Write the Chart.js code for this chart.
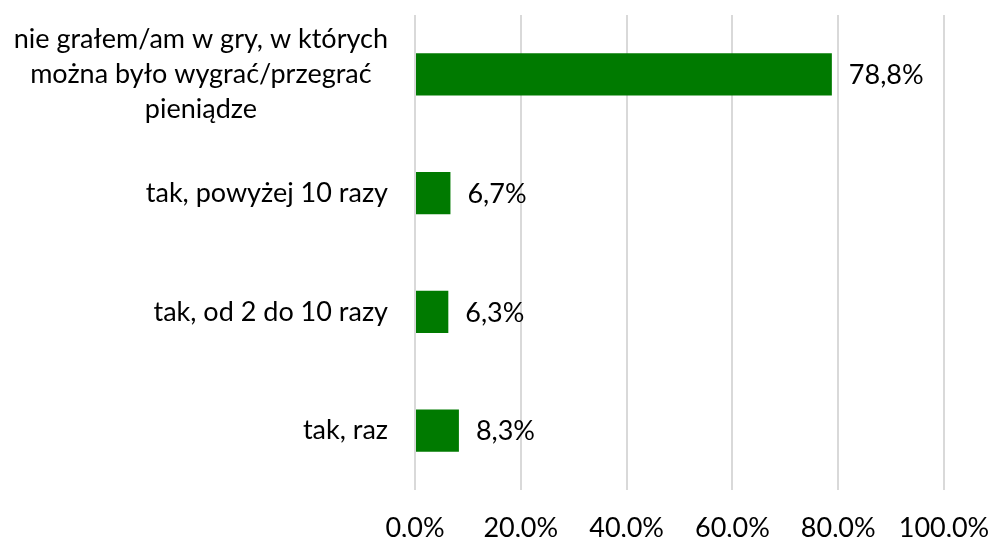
<!DOCTYPE html>
<html>
<head>
<meta charset="utf-8">
<script src="https://cdn.jsdelivr.net/npm/chart.js@4"></script>
<style>
  html, body { margin: 0; padding: 0; background: #fff; }
  #wrap { width: 990px; height: 537px; }
</style>
</head>
<body>
<div id="wrap"><canvas id="chart"></canvas></div>
<script>
// --- DATA ---
const categories = [
  ['nie grałem/am w gry, w których', 'można było wygrać/przegrać', 'pieniądze'],
  ['tak, powyżej 10 razy'],
  ['tak, od 2 do 10 razy'],
  ['tak, raz']
];
const values = [78.8, 6.7, 6.3, 8.3];
const tickValues = [0, 20, 40, 60, 80, 100];

const FONT = 'Lato, "Open Sans", sans-serif';
const SIZE = 27;
const fmt = v => v.toFixed(1).replace('.', ',') + '%';

// category labels: block right-aligned, lines centered inside the block
const catLabels = {
  id: 'catLabels',
  afterDraw(chart) {
    const ctx = chart.ctx, y = chart.scales.y;
    ctx.save();
    ctx.font = SIZE + 'px ' + FONT;
    ctx.fillStyle = '#000';
    ctx.textAlign = 'center';
    ctx.textBaseline = 'middle';
    const right = chart.chartArea.left - 27;
    const lh = 35;
    categories.forEach((lines, i) => {
      const w = Math.max(...lines.map(l => ctx.measureText(l).width));
      const cx = right - w / 2;
      const cy = y.getPixelForValue(i);
      lines.forEach((l, k) => ctx.fillText(l, cx, cy + (k - (lines.length - 1) / 2) * lh));
    });
    ctx.restore();
  }
};

// value labels at bar ends
const valLabels = {
  id: 'valLabels',
  afterDatasetsDraw(chart) {
    const ctx = chart.ctx;
    ctx.save();
    ctx.font = SIZE + 'px ' + FONT;
    ctx.fillStyle = '#000';
    ctx.textAlign = 'left';
    ctx.textBaseline = 'middle';
    chart.getDatasetMeta(0).data.forEach((bar, i) => {
      ctx.fillText(fmt(values[i]), bar.x + 17, bar.y + 1);
    });
    ctx.restore();
  }
};

new Chart(document.getElementById('chart'), {
  type: 'bar',
  data: {
    labels: categories.map(c => c.join(' ')),
    datasets: [{
      data: values,
      backgroundColor: '#007a00',
      borderWidth: 0,
      categoryPercentage: 1,
      barPercentage: 0.355
    }]
  },
  options: {
    indexAxis: 'y',
    responsive: true,
    maintainAspectRatio: false,
    animation: false,
    layout: { padding: { top: 15, right: 46, left: 0, bottom: 0 } },
    plugins: { legend: { display: false }, tooltip: { enabled: false } },
    scales: {
      x: {
        min: 0, max: 100,
        afterBuildTicks: s => { s.ticks = tickValues.map(v => ({ value: v })); },
        afterFit: s => { s.height = 47; s.paddingLeft = 0; s.paddingRight = 0; },
        grid: { color: '#d9d9d9', lineWidth: 2, drawTicks: false },
        border: { display: false },
        ticks: {
          padding: 22,
          color: '#000',
          font: { family: FONT, size: SIZE },
          maxRotation: 0,
          callback: v => fmt(v)
        }
      },
      y: {
        afterFit: s => { s.width = 415; },
        grid: { display: false },
        border: { display: false },
        ticks: { display: false }
      }
    }
  },
  plugins: [catLabels, valLabels]
});
</script>
</body>
</html>
